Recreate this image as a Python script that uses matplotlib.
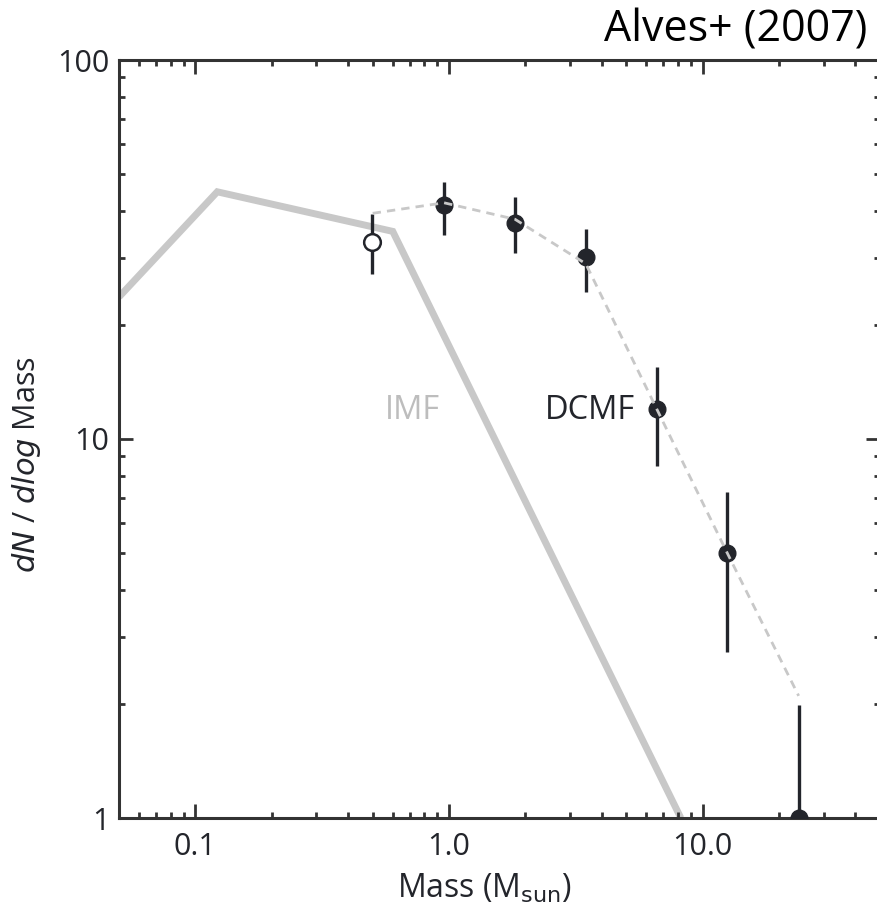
import matplotlib
matplotlib.use("Agg")
import matplotlib.pyplot as plt
from matplotlib.ticker import LogLocator, NullFormatter, FixedLocator, FixedFormatter

# IMF (thick grey broken power law)
imf_mass = [0.05, 0.122, 0.60, 8.2]
imf_n = [23.7, 44.9, 35.3, 1.0]

# DCMF dashed curve
dash_mass = [0.50, 0.956, 1.82, 3.46, 6.59, 12.5, 23.9]
dash_n = [39.4, 42.0, 38.0, 29.0, 12.0, 5.0, 2.1]

# DCMF points with error bars
dcmf_mass = [0.956, 1.82, 3.46, 6.59, 12.5, 23.9]
dcmf_n = [41.5, 37.1, 30.2, 12.0, 5.0, 1.0]
dcmf_hi = [47.6, 43.6, 35.8, 15.5, 7.26, 1.99]
dcmf_lo = [34.5, 30.9, 24.4, 8.5, 2.74, 0.3]

# open (incomplete) point
open_mass = [0.497]
open_n = [33.0]
open_hi = [39.3]
open_lo = [27.2]

xticks = [0.1, 1.0, 10.0]
xticklabels = ["0.1", "1.0", "10.0"]
yticks = [1, 10, 100]
yticklabels = ["1", "10", "100"]

dark = "#23252b"
grey = "#c8c8c8"
font = "Open Sans"

plt.rcParams["font.family"] = [font, "DejaVu Sans"]

fig = plt.figure(figsize=(8.77, 9.18), dpi=100)
# right spine sits just outside the picture, as in the original crop
ax = fig.add_axes([119 / 877, 100 / 918, 761 / 877, 758 / 918])
ax.set_xscale("log")
ax.set_yscale("log")

ax.plot(imf_mass, imf_n, color=grey, lw=5, solid_joinstyle="miter",
        solid_capstyle="butt", zorder=1)

ax.errorbar(open_mass, open_n,
            yerr=[[n - l for n, l in zip(open_n, open_lo)],
                  [h - n for n, h in zip(open_n, open_hi)]],
            fmt="o", ms=12, mfc="white", mec=dark, mew=1.8,
            ecolor=dark, elinewidth=2.4, capsize=0, zorder=3)
ax.errorbar(dcmf_mass, dcmf_n,
            yerr=[[n - l for n, l in zip(dcmf_n, dcmf_lo)],
                  [h - n for n, h in zip(dcmf_n, dcmf_hi)]],
            fmt="o", ms=12, color=dark, ecolor=dark,
            elinewidth=2.4, capsize=0, zorder=3)

ax.plot(dash_mass, dash_n, color=grey, lw=2, linestyle=(0, (3, 2.2)), zorder=4)

ax.set_xlim(0.05, 50)
ax.set_ylim(1, 100)

ax.xaxis.set_major_locator(FixedLocator(xticks))
ax.xaxis.set_major_formatter(FixedFormatter(xticklabels))
ax.yaxis.set_major_locator(FixedLocator(yticks))
ax.yaxis.set_major_formatter(FixedFormatter(yticklabels))
ax.xaxis.set_minor_locator(LogLocator(base=10, subs=range(2, 10), numticks=20))
ax.yaxis.set_minor_locator(LogLocator(base=10, subs=range(2, 10), numticks=20))
ax.xaxis.set_minor_formatter(NullFormatter())
ax.yaxis.set_minor_formatter(NullFormatter())

ax.tick_params(which="both", direction="in", top=True, right=True,
               color="#333333", width=2, labelsize=22, labelcolor=dark)
ax.tick_params(which="major", length=10)
ax.tick_params(which="minor", length=4.5)
ax.tick_params(axis="x", pad=10)
ax.tick_params(axis="y", pad=7)
for s in ax.spines.values():
    s.set_linewidth(2.2)
    s.set_color("#333333")

ax.set_xlabel(r"Mass (M$_{\rm sun}$)", fontsize=23, color=dark)
ax.xaxis.set_label_coords(0.48, -0.071)
ax.set_ylabel(r"$\it{dN}$ / $\it{dlog}$ Mass", fontsize=22, color=dark)
ax.yaxis.set_label_coords(-0.1005, 0.467)

ax.text(0.386, 0.538, "IMF", transform=ax.transAxes, fontsize=23.5,
        color="#bdbdbd", ha="center", va="center")
ax.text(0.619, 0.538, "DCMF", transform=ax.transAxes, fontsize=23.5,
        color=dark, ha="center", va="center")

fig.text(867 / 877, 1 - 30 / 918, "Alves+ (2007)", fontsize=31,
         color="black", ha="right", va="center")

fig.savefig("out.png", dpi=100)
